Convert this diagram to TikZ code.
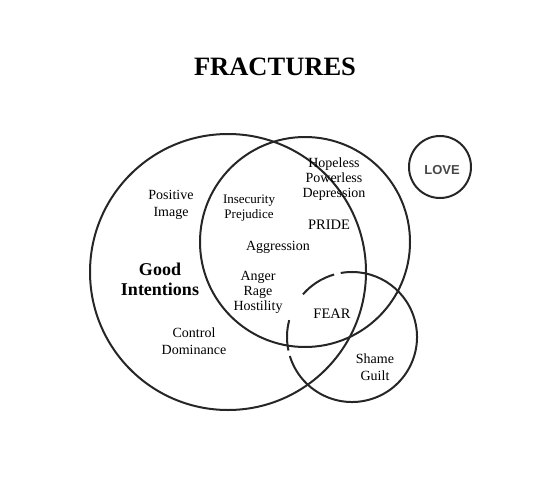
\documentclass[tikz,border=0pt]{standalone}
\usepackage{fontspec}
\setmainfont{Liberation Serif}
\newfontfamily\lovefont{Liberation Sans}
\usepackage{tikz}

\tikzset{
  ring/.style={line width=2pt, black!85},
  word/.style={inner sep=0pt, align=center, font=\fontsize{14}{15}\selectfont},
  loose word/.style={word, font=\fontsize{14}{17}\selectfont},
  small word/.style={word, font=\fontsize{13}{15}\selectfont},
  big word/.style={word, font=\bfseries\fontsize{18}{20}\selectfont}
}

\begin{document}
\begin{tikzpicture}[x=1pt,y=-1pt]

\useasboundingbox (0,0) rectangle (545,484);

\coordinate (G) at (228,272);
\coordinate (P) at (305,242);
\coordinate (F) at (352,337);
\coordinate (L) at (440,167);

\draw [ring] (G) circle (138);
\draw [ring] (P) circle (105);
\draw [ring] (L) circle (31);

% fear circle, with its breaks
\draw [ring] (F) ++(-106:65) arc [start angle=-106, end angle=-139, radius=65];
\draw [ring] (F) ++(-165:65) arc [start angle=-165, end angle=-192, radius=65];
\draw [ring] (F) ++(-197:65) arc [start angle=-197, end angle=-460, radius=65];

\node [word, font=\bfseries\fontsize{26.5}{30}\selectfont] (title) at (275,67) {FRACTURES};

\node [loose word] (image) at (171,205) {Positive\\Image};
\node [small word] (insec) at (249,208) {Insecurity\\Prejudice};
\node [word] (hope) at (334,179) {Hopeless\\Powerless\\Depression};
\node [word, font=\fontsize{14.5}{15}\selectfont] (pride) at (329,225) {PRIDE};
\node [word] (aggr) at (278,247) {Aggression};
\node [big word] (good) at (160,279) {Good\\Intentions};
\node [word] (anger) at (258,292) {Anger\\Rage\\Hostility};
\node [word, font=\fontsize{14.5}{15}\selectfont] (fear) at (332,314) {FEAR};
\node [loose word] (ctrl) at (194,341) {Control\\Dominance};
\node [loose word] (shame) at (375,367) {Shame\\Guilt};
\node [word, font=\lovefont\bfseries\fontsize{13}{15}\selectfont, text=black!72] (love) at (442,170) {LOVE};

\end{tikzpicture}
\end{document}
